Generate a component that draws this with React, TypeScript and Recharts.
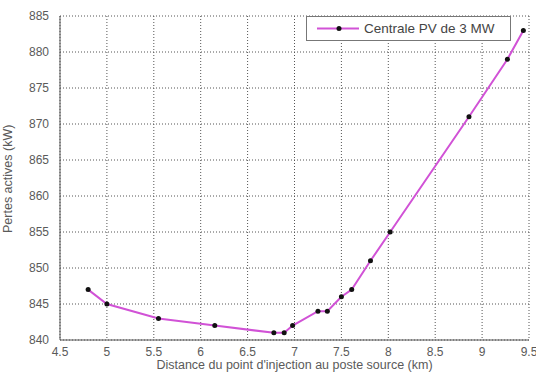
import React from 'react';
import {
  LineChart, Line, XAxis, YAxis, CartesianGrid,
} from 'recharts';

// distances (km) and active losses (kW)
const distanceKm = [4.8, 5.0, 5.55, 6.15, 6.78, 6.89, 6.98, 7.25, 7.35, 7.5, 7.61, 7.81, 8.02, 8.86, 9.27, 9.44];
const lossesKw = [847, 845, 843, 842, 841, 841, 842, 844, 844, 846, 847, 851, 855, 871, 879, 883];

const xTicks = [4.5, 5, 5.5, 6, 6.5, 7, 7.5, 8, 8.5, 9, 9.5];
const yTicks = [840, 845, 850, 855, 860, 865, 870, 875, 880, 885];

const seriesName = 'Centrale PV de 3 MW';

const data = distanceKm.map((d, i) => ({ d, p: lossesKw[i] }));

const LINE = '#d152d6';
const TXT = '#5a5a5a';
const FONT = 'Arial, "Liberation Sans", sans-serif';

// legend sits inside the plot, top right, like the matlab one
const LegendBox = () => (
  <div style={{
    position: 'absolute', left: 306, top: 16, width: 203, height: 23,
    border: '1px solid #777', background: '#fff',
    display: 'flex', alignItems: 'center', fontFamily: FONT, fontSize: 13.5, color: '#444',
  }}>
    <svg width={55} height={23}>
      <line x1={10} y1={11.5} x2={52} y2={11.5} stroke={LINE} strokeWidth={2} />
      <circle cx={32} cy={11.5} r={2.5} fill="#111" />
    </svg>
    <span style={{ marginLeft: 2 }}>{seriesName}</span>
  </div>
);

export default function App() {
  return (
    <div style={{ position: 'absolute', left: 0, top: 0, width: 536, height: 374, background: '#fff' }}>
      <LineChart width={536} height={374} data={data} margin={{ top: 16, right: 7, left: 0, bottom: 0 }}>
        <CartesianGrid stroke="#555" strokeDasharray="1 2" />
        <XAxis
          dataKey="d" type="number" domain={[4.5, 9.5]} ticks={xTicks} interval={0}
          height={34} stroke="#555" tickLine={false} tickMargin={1}
          tick={{ fontSize: 12, fill: TXT, fontFamily: FONT }}
          label={{ value: "Distance du point d'injection au poste source (km)", position: 'insideBottom', offset: 5, fontSize: 12.5, fill: TXT, fontFamily: FONT }}
        />
        <XAxis xAxisId="top" orientation="top" dataKey="d" type="number" domain={[4.5, 9.5]} height={0} stroke="#555" tick={false} tickLine={false} />
        <YAxis
          type="number" domain={[840, 885]} ticks={yTicks} interval={0} width={60}
          stroke="#555" tickLine={false} tickMargin={5}
          tick={{ fontSize: 12, fill: TXT, fontFamily: FONT }}
          label={{ value: 'Pertes actives (kW)', angle: -90, position: 'insideLeft', offset: 8, fontSize: 12.5, fill: TXT, fontFamily: FONT, dy: 55 }}
        />
        <YAxis yAxisId="right" orientation="right" domain={[840, 885]} width={0} stroke="#555" tick={false} tickLine={false} />
        <Line
          dataKey="p" name={seriesName} stroke={LINE} strokeWidth={2}
          dot={{ r: 2.5, fill: '#111', stroke: '#111', strokeWidth: 0 }}
          isAnimationActive={false}
        />
      </LineChart>
      <LegendBox />
    </div>
  );
}
